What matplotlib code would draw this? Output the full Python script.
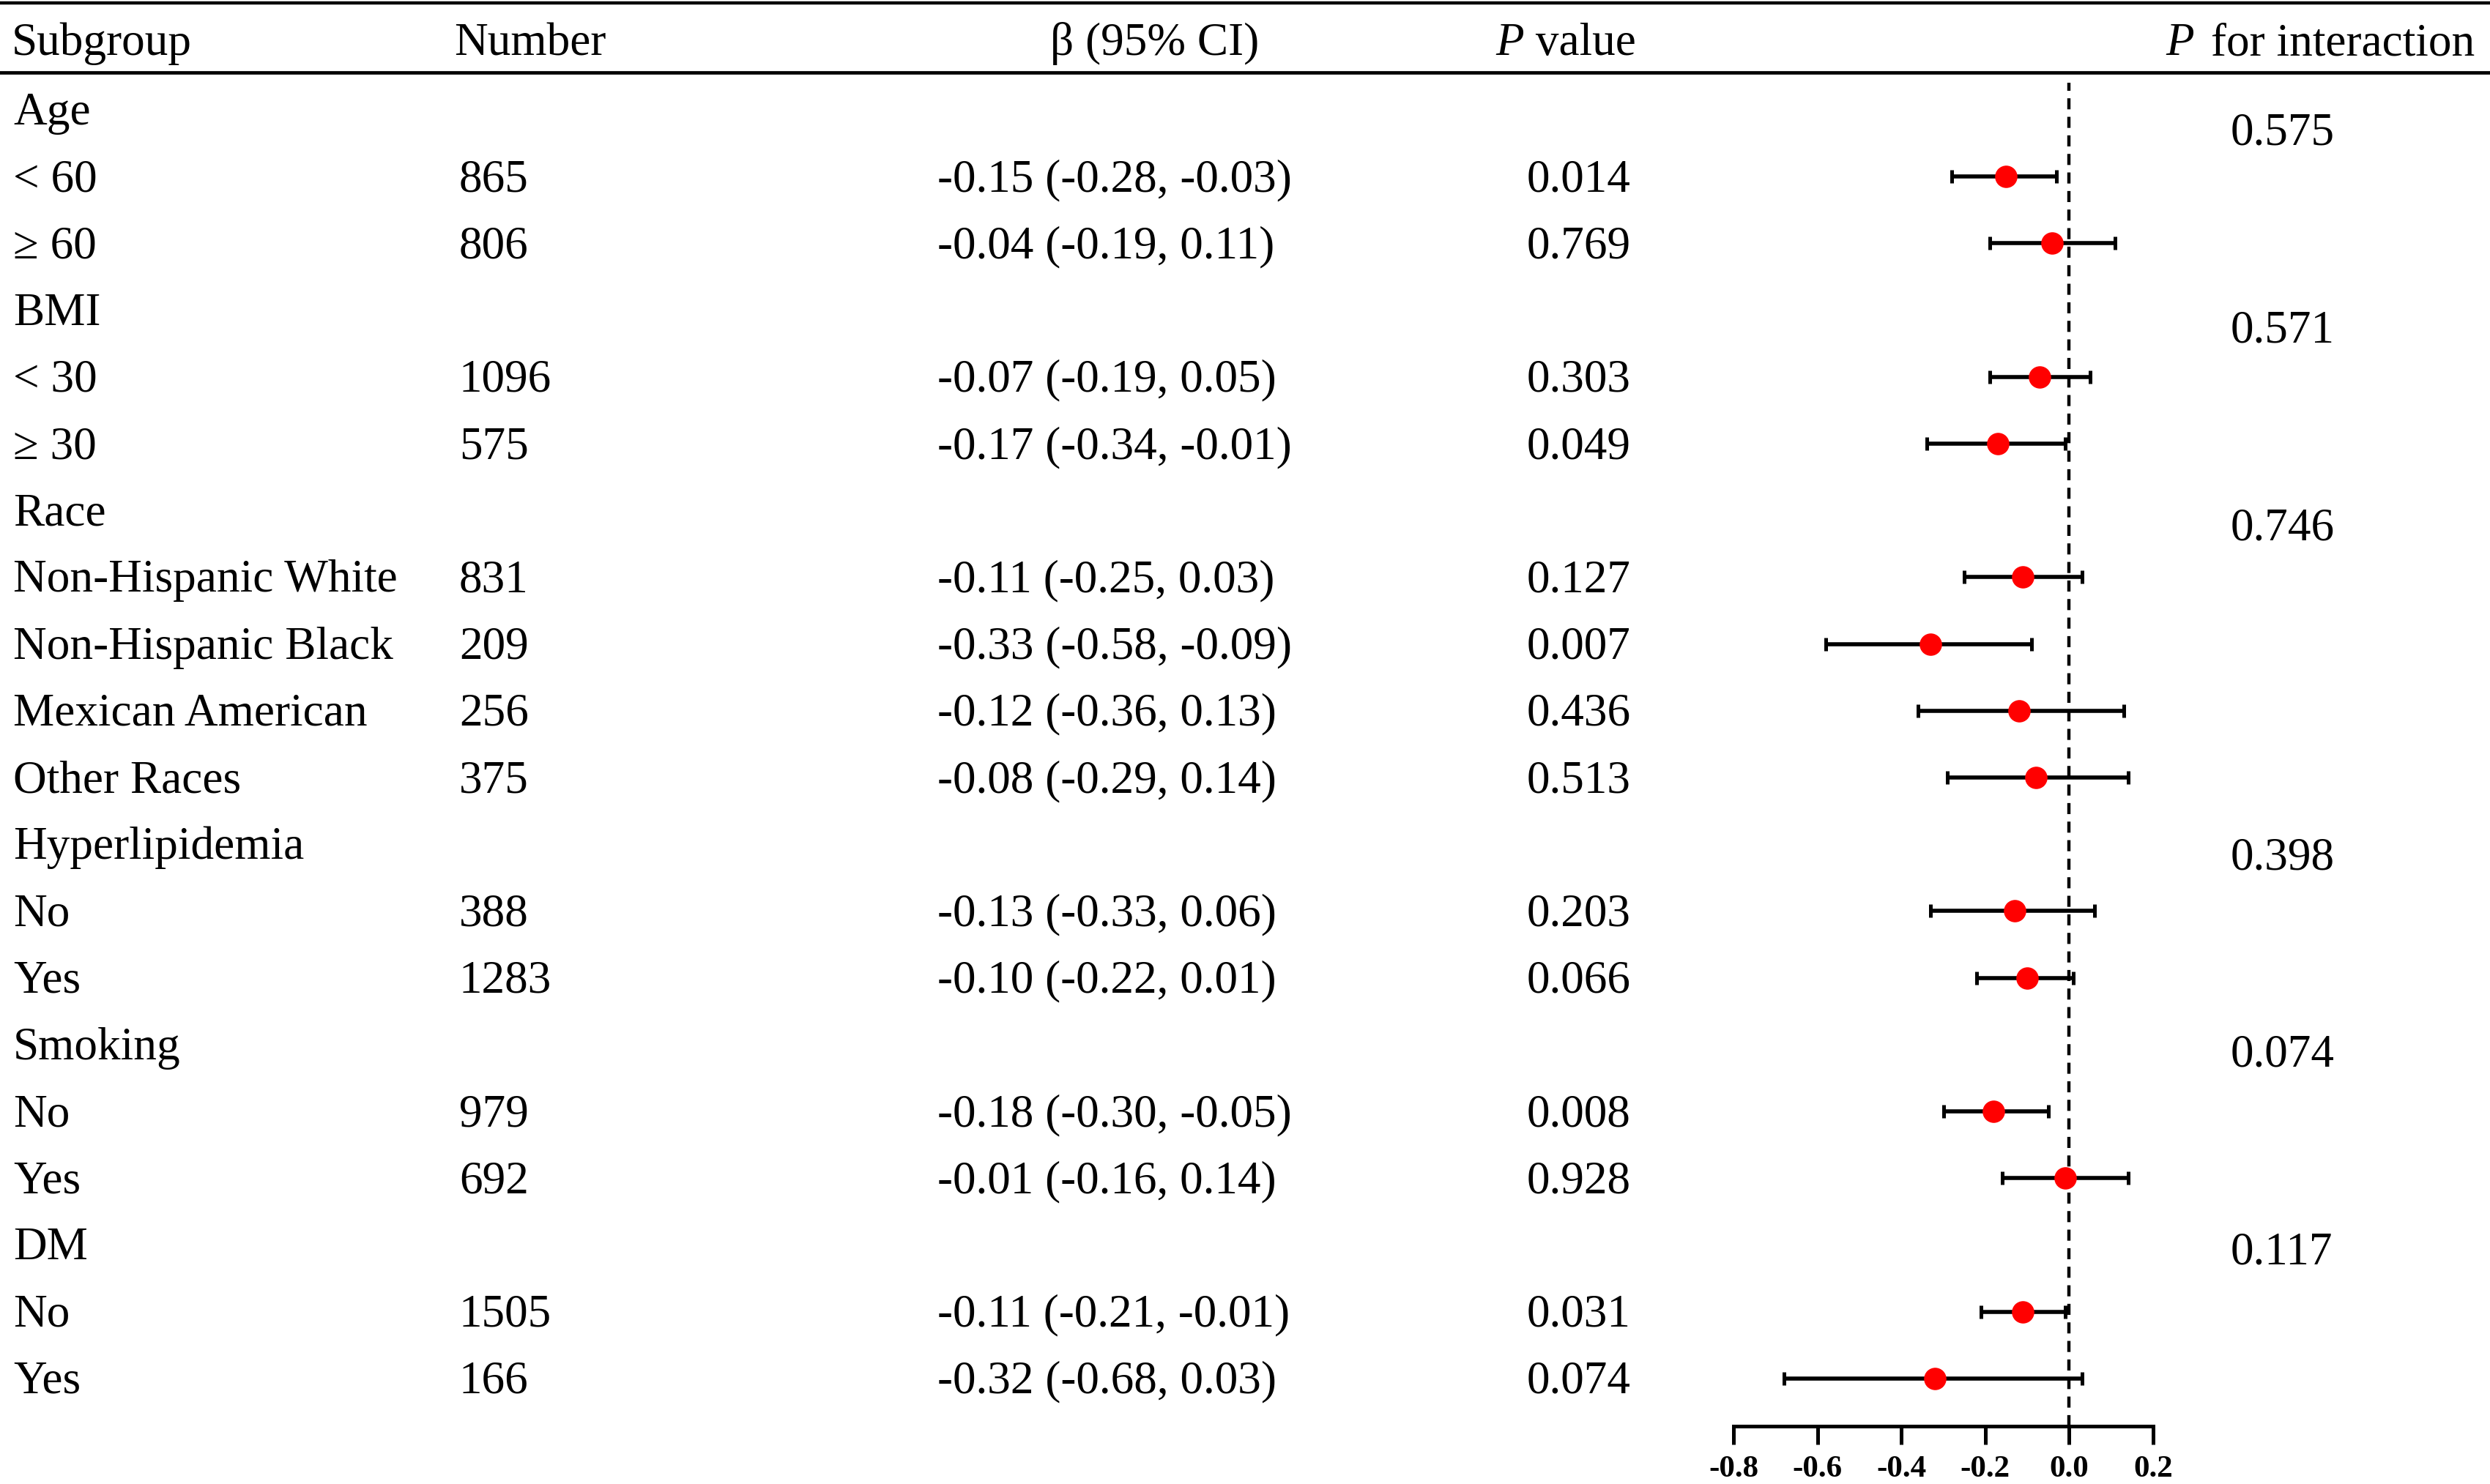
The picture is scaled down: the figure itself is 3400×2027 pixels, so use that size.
import matplotlib
matplotlib.use("Agg")
import matplotlib.pyplot as plt
import numpy as np

plt.rcParams["font.family"] = ["Liberation Serif", "DejaVu Serif"]
plt.rcParams["axes.unicode_minus"] = False

# table rows (label, is_header)
labels = ["Age", "< 60", "≥ 60",
          "BMI", "< 30", "≥ 30",
          "Race", "Non-Hispanic White", "Non-Hispanic Black", "Mexican American", "Other Races",
          "Hyperlipidemia", "No", "Yes",
          "Smoking", "No", "Yes",
          "DM", "No", "Yes"]
is_header = [1, 0, 0, 1, 0, 0, 1, 0, 0, 0, 0, 1, 0, 0, 1, 0, 0, 1, 0, 0]
numbers = ["", "865", "806", "", "1096", "575", "", "831", "209", "256", "375",
           "", "388", "1283", "", "979", "692", "", "1505", "166"]
beta = [np.nan, -0.15, -0.04, np.nan, -0.07, -0.17, np.nan, -0.11, -0.33, -0.12, -0.08,
        np.nan, -0.13, -0.10, np.nan, -0.18, -0.01, np.nan, -0.11, -0.32]
ci_low = [np.nan, -0.28, -0.19, np.nan, -0.19, -0.34, np.nan, -0.25, -0.58, -0.36, -0.29,
          np.nan, -0.33, -0.22, np.nan, -0.30, -0.16, np.nan, -0.21, -0.68]
ci_high = [np.nan, -0.03, 0.11, np.nan, 0.05, -0.01, np.nan, 0.03, -0.09, 0.13, 0.14,
           np.nan, 0.06, 0.01, np.nan, -0.05, 0.14, np.nan, -0.01, 0.03]
p_values = ["", "0.014", "0.769", "", "0.303", "0.049", "", "0.127", "0.007", "0.436", "0.513",
            "", "0.203", "0.066", "", "0.008", "0.928", "", "0.031", "0.074"]
p_interaction = ["0.575", "0.571", "0.746", "0.398", "0.074", "0.117"]
xticks = [-0.8, -0.6, -0.4, -0.2, 0.0, 0.2]

W, H = 3400, 2027
fig = plt.figure(figsize=(W / 100, H / 100), dpi=100)

row0, step = 150.0, 91.2  # pixel centre of first row and row pitch


def fy(px):
    return 1 - px / H


# full-figure axes for the text table, y in row units
tab = fig.add_axes([0, 0, 1, 1])
tab.set_xlim(0, W)
tab.set_ylim((H - row0) / step, -row0 / step)
tab.axis("off")

fs = 45.5
base = 0.22  # baseline below row centre

# rules
tab.axhline((4 - row0) / step, color="black", lw=3.2)
tab.axhline((99 - row0) / step, color="black", lw=3.4)

# header
hy = (75 - row0) / step
tab.text(16, hy, "Subgroup", fontsize=fs, va="baseline")
tab.text(620, hy, "Number", fontsize=fs, va="baseline")
tab.text(1434, hy, "β (95% CI)", fontsize=fs, va="baseline")
tp = tab.text(2042, hy, "P", fontsize=fs, va="baseline", style="italic")
tab.annotate(" value", xy=(1, 0), xycoords=tp, fontsize=fs, va="bottom", ha="left")
tf = tab.text(3379, hy, " for interaction", fontsize=fs, va="baseline", ha="right")
tab.annotate("P", xy=(0, 0), xycoords=tf, xytext=(-5, 0), textcoords="offset points",
             fontsize=fs, va="bottom", ha="right", style="italic")

rows = np.arange(len(labels))
for i in rows:
    y = i + base
    tab.text(18, y, labels[i], fontsize=fs, va="baseline")
    if not is_header[i]:
        tab.text(627, y, numbers[i], fontsize=fs, va="baseline")
        txt = f"{beta[i]:.2f} ({ci_low[i]:.2f}, {ci_high[i]:.2f})"
        tab.text(1280, y, txt, fontsize=fs, va="baseline")
        tab.text(2085, y, p_values[i], fontsize=fs, va="baseline")

header_rows = [i for i in rows if is_header[i]]
for k, r in enumerate(header_rows):
    tab.text(3046, r + 0.52 - 0.0135 * r, p_interaction[k], fontsize=fs, va="baseline")

# forest plot
x0, x1 = 2367, 2940
top_px, bot_px = 113, 1948
ax = fig.add_axes([x0 / W, fy(bot_px), (x1 - x0) / W, (bot_px - top_px) / H])
ax.set_xlim(-0.8, 0.2)
ax.set_ylim((bot_px - row0) / step, (top_px - row0) / step)
ax.patch.set_alpha(0)
for s in ["top", "right", "left"]:
    ax.spines[s].set_visible(False)
ax.spines["bottom"].set_linewidth(3.6)
ax.set_yticks([])
ax.set_xticks(xticks)
ax.set_xticklabels([f"{t:.1f}" for t in xticks], fontsize=31, fontweight="bold")
ax.tick_params(axis="x", length=18, width=3.6, pad=11)

ax.axvline(0, color="black", lw=3.2, linestyle=(0, (3.4, 2.3)), zorder=1)

b = np.array(beta)
lo = np.array(ci_low)
hi = np.array(ci_high)
m = ~np.isnan(b)
ax.errorbar(b[m], rows[m], xerr=[b[m] - lo[m], hi[m] - b[m]], fmt="none",
            ecolor="black", elinewidth=4, capsize=6.5, capthick=3.6, zorder=2)
ax.plot(b[m], rows[m], "o", color="#ff0000", markersize=22, markeredgewidth=0, zorder=3)

fig.savefig("out.png", dpi=100)
